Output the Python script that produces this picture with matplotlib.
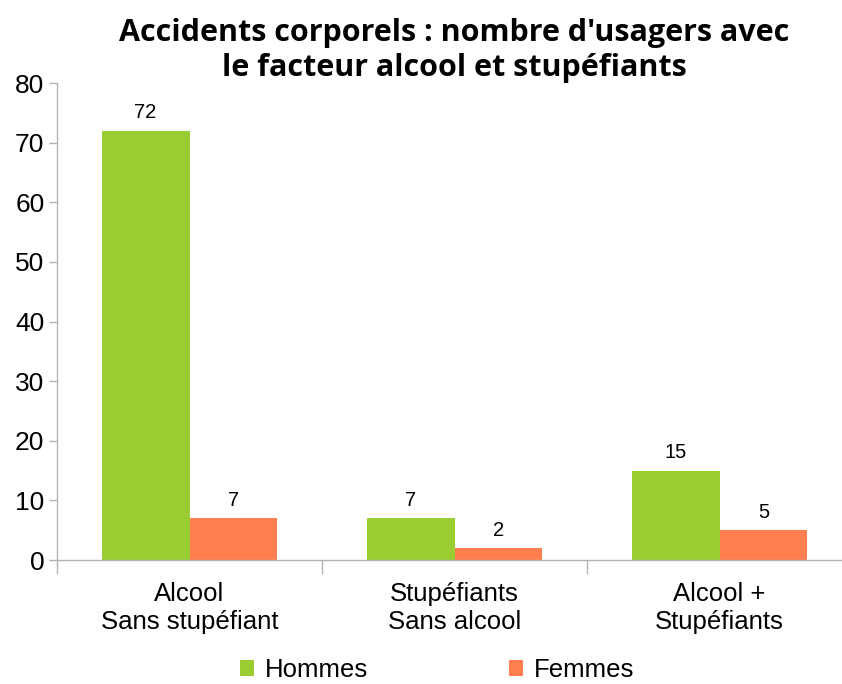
import numpy as np
from matplotlib import pyplot as plt

categories = ["Alcool\nSans stupéfiant", "Stupéfiants\nSans alcool", "Alcool +\nStupéfiants"]
hommes = [72, 7, 15]
femmes = [7, 2, 5]
series_names = ["Hommes", "Femmes"]
title = "Accidents corporels : nombre d'usagers avec\nle facteur alcool et stupéfiants"

green = "#9acd32"
orange = "#ff7f50"
grey = "#b3b3b3"

plt.rcParams['font.family'] = ['Liberation Sans', 'DejaVu Sans']

fig = plt.figure(figsize=(8.42, 6.84), dpi=100)
ax = fig.add_axes([57 / 842, 124 / 684, 795 / 842, 477 / 684])

x = np.arange(len(categories))
w = 0.332
b1 = ax.bar(x - w / 2, hommes, w, color=green, label=series_names[0])
b2 = ax.bar(x + w / 2, femmes, w, color=orange, label=series_names[1])
for bars in (b1, b2):
    ax.bar_label(bars, padding=6, fontsize=14.5)

ax.set_xlim(-0.5, len(categories) - 0.5)
ax.set_ylim(0, 80)
ax.set_yticks(range(0, 81, 10))
ax.tick_params(axis='y', labelsize=19, length=6, color=grey, width=1, pad=3)

# category labels centered, ticks on the boundaries
ax.set_xticks(x)
ax.set_xticklabels(categories, fontsize=18.5, linespacing=1.22)
ax.tick_params(axis='x', length=0, pad=16)
ax.set_xticks(np.arange(-0.5, len(categories)), minor=True)
ax.tick_params(axis='x', which='minor', length=10, color=grey, width=1)

for s in ('top', 'right'):
    ax.spines[s].set_visible(False)
for s in ('left', 'bottom'):
    ax.spines[s].set_color(grey)
    ax.spines[s].set_linewidth(1)

ax.set_title(title, fontsize=22, fontweight='bold', family='Open Sans',
             linespacing=1.2, pad=4)

fig.legend(handles=[b1, b2], loc='center', bbox_to_anchor=(437 / 842, 14 / 684),
           ncol=2, frameon=False, fontsize=18.5, handlelength=0.55, handleheight=0.55,
           handletextpad=0.4, columnspacing=5.5)

plt.savefig("out.png", dpi=100)
plt.close()
